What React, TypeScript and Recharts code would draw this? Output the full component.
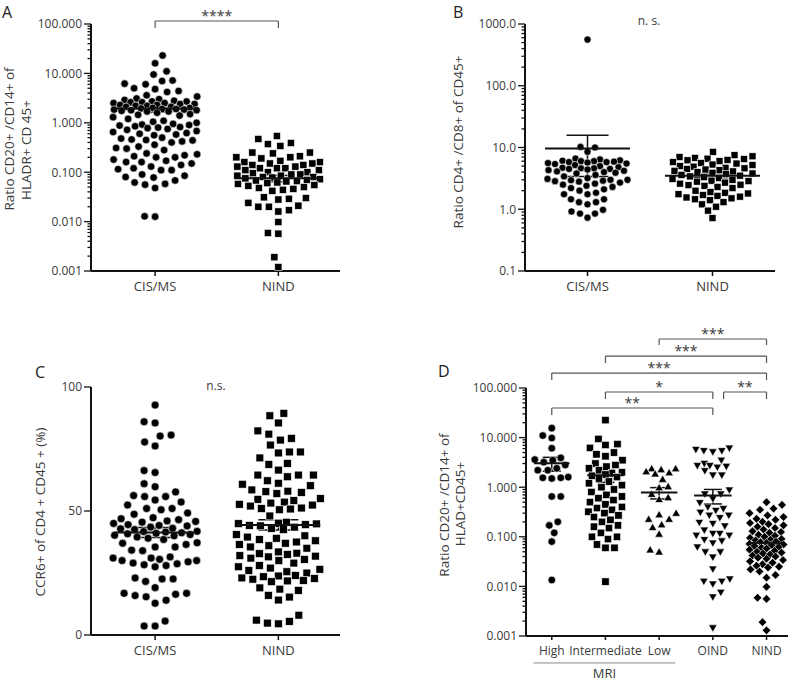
import React from 'react';
import { ErrorBar, ReferenceLine, Scatter, ScatterChart, XAxis, YAxis } from 'recharts';

const FONT = '"Open Sans", "Noto Sans", sans-serif';
const INK = '#111';
const TEXT = '#3a3a3a';

// A: ratio CD20+/CD14+ of HLADR+ CD45+
const groupsAB = ['CIS/MS', 'NIND'];
const ratioCis = [
  23, 16, 11, 9.5, 7.2, 7.0, 6.2, 6.0, 5.0, 4.8, 4.4, 4.2, 3.6, 3.4, 3.1, 3.0,
  2.9, 2.8, 2.7, 2.7, 2.6, 2.6, 2.5, 2.5, 2.4, 2.4,
  2.3, 2.3, 2.2, 2.2, 2.1, 2.1, 2.0, 2.0,
  1.95, 1.9, 1.9, 1.85, 1.85, 1.8, 1.8, 1.75, 1.7, 1.7,
  1.6, 1.5, 1.45, 1.4, 1.3, 1.2, 1.1, 1.05, 1.0,
  0.95, 0.92, 0.9, 0.88, 0.85, 0.82, 0.8, 0.78, 0.75,
  0.72, 0.68, 0.65, 0.62, 0.6, 0.58, 0.56,
  0.5, 0.48, 0.46, 0.45, 0.44, 0.42, 0.4,
  0.36, 0.33, 0.31, 0.3, 0.28,
  0.24, 0.23, 0.22, 0.21, 0.2, 0.2,
  0.18, 0.17, 0.16, 0.16, 0.15,
  0.14, 0.13, 0.12, 0.115, 0.11, 0.11,
  0.09, 0.085, 0.08, 0.078, 0.068, 0.062, 0.058, 0.056, 0.048,
  0.0128, 0.0126,
];
const ratioNind = [
  0.54, 0.47, 0.39, 0.37, 0.34,
  0.25, 0.25, 0.24, 0.21, 0.2, 0.2, 0.19,
  0.17, 0.16, 0.16, 0.15, 0.15, 0.14, 0.14, 0.13, 0.13, 0.12, 0.12, 0.12,
  0.11, 0.11, 0.1, 0.1,
  0.095, 0.09, 0.09, 0.085, 0.085, 0.08, 0.08, 0.078, 0.075, 0.072, 0.07, 0.068, 0.066, 0.065,
  0.062, 0.06, 0.058, 0.055, 0.053, 0.05, 0.048, 0.046, 0.044, 0.042,
  0.031, 0.03, 0.029, 0.028, 0.024, 0.021, 0.02, 0.02, 0.017, 0.016,
  0.0098, 0.0059, 0.0057, 0.0019, 0.0012,
];
const ratioMean = [1.95, 0.075];
const ratioSem = [0.3, 0.011];

// B: ratio CD4+/CD8+ of CD45+
const cd4Cis = [
  560, 10.2, 10.0, 8.5, 6.6, 6.4,
  6.2, 6.1, 6.0, 6.0, 5.9, 5.8, 5.8, 5.7, 5.6, 5.5, 5.4, 5.2, 5.0,
  4.8, 4.7, 4.6, 4.6, 4.5, 4.5, 4.4, 4.3, 4.2, 4.1, 4.0, 3.9, 3.8,
  3.6, 3.4, 3.2, 3.1, 3.0, 3.0, 2.95, 2.9, 2.85, 2.8, 2.7, 2.6, 2.5, 2.4, 2.3, 2.2, 2.1, 2.0,
  1.85, 1.75, 1.75, 1.45, 1.45, 1.3, 1.3, 1.2, 0.98, 0.92, 0.85, 0.85, 0.73,
];
const cd4Nind = [
  8.5, 7.5, 7.2,
  7.0, 6.8, 6.6, 6.5, 6.3, 6.2, 6.0, 5.8, 5.6, 5.5, 5.3, 5.2, 5.0, 4.9,
  4.7, 4.6, 4.5, 4.4, 4.3, 4.2, 4.1, 4.0, 3.9, 3.8, 3.7, 3.6, 3.5, 3.4,
  3.3, 3.2, 3.1, 3.0, 2.9, 2.85, 2.8, 2.7, 2.6, 2.5, 2.45, 2.4, 2.3, 2.2,
  2.0, 1.9, 1.85, 1.8, 1.75, 1.7, 1.65, 1.6, 1.55, 1.5, 1.45, 1.4, 1.3, 1.2, 1.1,
  0.95, 0.72,
];
const cd4Mean = [9.6, 3.5];
const cd4Sem = [6.2, 0.25];

// C: CCR6+ of CD4+ CD45+ (%)
const ccr6Cis = [
  92.7, 86, 85.5, 80.6, 80.2, 77.8, 76.2, 66.3, 65.5, 61, 59.8, 57.7,
  56.2, 55.8, 55.8, 54.4, 53.6, 52.4,
  51, 51, 50.5, 49.2, 48.7, 47.3, 46.9,
  46.5, 46, 45.8, 45.5, 45, 44.5, 44.2, 44, 43.5, 43, 42.8, 42.5,
  41.8, 41.7, 41.5, 41.2, 41, 40.8, 40.5, 40.2, 40, 39.5, 39, 38.5,
  37.2, 37, 36.5, 35.5, 35.5, 34.2, 34,
  31.5, 31, 31, 30.5, 30, 30, 29.5, 29, 28.7, 28.3, 28, 27.5,
  23, 22.6, 22.6, 21.6, 19.1,
  16.8, 16.8, 16.4, 15.9, 15.4, 14,
  12.8, 5.6, 3.6, 3.6,
];
const ccr6Nind = [
  89.4, 88.4, 85.5, 82.3, 81, 79.3, 78.6, 76.6, 73.8, 73.8, 73.4, 71.4, 69.2, 68.8,
  66.5, 64.5, 64.5, 64.5, 63.8, 62.2, 61.2, 60.8, 60.2,
  58.5, 58, 57.8, 57.5, 57,
  55, 54.7, 54.2, 53.6, 53.2, 52.7, 52.4, 52,
  51.2, 51, 50.8, 50.5, 48,
  45.5, 45, 44.9, 44.8, 44.5, 44.2, 44, 43.5, 43, 42.5,
  40.5, 40, 39.5, 39, 38.5, 38, 37.5, 37, 36.5, 36, 35.5, 35,
  33.5, 33, 32.8, 32.5, 32, 31.8, 31.5, 31, 30.5, 30,
  29, 28, 27.5, 27, 26.5, 26, 25.5, 25,
  24, 23.8, 23.5, 23, 22.8, 22.5, 22, 21.8, 21.5,
  19, 18.5, 18, 16, 15.3, 14.1,
  8, 6, 5.5, 4.8, 4.5,
];
const ccr6Mean = [41.3, 44.4];
const ccr6Sem = [2.0, 2.1];

// D: by MRI activity and control groups
const groupsD = ['High', 'Intermediate', 'Low', 'OIND', 'NIND'];
const mriHigh = [
  15.5, 11, 9.8, 6.1, 3.9, 3.6, 3.5, 3.2, 2.8, 2.4, 2.2, 2.2,
  1.6, 1.55, 1.55, 1.5, 0.65, 0.65, 0.2, 0.17, 0.12, 0.08, 0.0135,
];
const mriInter = [
  22.5, 9.4, 7.4, 7.1, 6.2, 5.0, 4.6, 4.2, 3.5, 3.0, 2.8, 2.6, 2.4, 2.2, 2.0, 1.9,
  1.8, 1.7, 1.6, 1.5, 1.3, 1.2, 1.1, 1.0, 0.9, 0.8, 0.7, 0.65, 0.6, 0.55, 0.5, 0.45,
  0.4, 0.38, 0.35, 0.32, 0.3, 0.27, 0.25, 0.22, 0.2, 0.17, 0.16, 0.15, 0.12, 0.1,
  0.1, 0.09, 0.07, 0.06, 0.06, 0.0125,
];
const mriLow = [
  2.3, 2.3, 2.2, 2.0, 1.9, 1.8, 1.4, 1.0, 0.95, 0.7, 0.6, 0.55,
  0.29, 0.27, 0.22, 0.22, 0.17, 0.15, 0.11, 0.053, 0.048,
];
const oindVals = [
  6.3, 5.9, 5.6, 5.6, 5.3, 3.6, 3.1, 2.8, 2.8, 2.7, 2.6, 2.2, 1.8, 1.8,
  0.9, 0.75, 0.75, 0.6, 0.5, 0.41, 0.38, 0.35, 0.32, 0.28, 0.28, 0.25, 0.2, 0.19,
  0.17, 0.14, 0.12, 0.12, 0.11, 0.11, 0.09, 0.085, 0.077, 0.064, 0.051, 0.051,
  0.04, 0.023, 0.0145, 0.013, 0.013, 0.0115, 0.0078, 0.0063, 0.0015,
];
const nindVals = [
  0.5, 0.44, 0.37, 0.35, 0.3, 0.27, 0.25, 0.23, 0.22, 0.2, 0.19, 0.18, 0.17, 0.16,
  0.15, 0.14, 0.13, 0.125, 0.12, 0.11, 0.105, 0.1, 0.095, 0.09, 0.088, 0.085, 0.08,
  0.078, 0.075, 0.072, 0.07, 0.068, 0.065, 0.062, 0.06, 0.058, 0.055, 0.052, 0.05,
  0.048, 0.046, 0.044, 0.042, 0.04, 0.038, 0.036, 0.034, 0.032, 0.03, 0.028, 0.026,
  0.025, 0.024, 0.022, 0.02, 0.017, 0.015, 0.0098, 0.0059, 0.0056, 0.0019, 0.0013,
];
const dMean = [3.05, 1.75, 0.78, 0.68, 0.075];
const dSem = [0.95, 0.5, 0.2, 0.22, 0.01];

const ticksRatio = [0.001, 0.01, 0.1, 1, 10, 100];
const labelsRatio = ['0.001', '0.010', '0.100', '1.000', '10.000', '100.000'];
const ticksCd4 = [0.1, 1, 10, 100, 1000];
const labelsCd4 = ['0.1', '1.0', '10.0', '100.0', '1000.0'];
const ticksCcr6 = [0, 50, 100];
const labelsCcr6 = ['0', '50', '100'];

// log axes get GraphPad-style minor ticks between decades
const withMinor = (majors: number[]) => {
  const out = [...majors];
  majors.slice(0, -1).forEach((m) => {
    for (let k = 2; k <= 9; k++) out.push(+(m * k).toPrecision(6));
  });
  return out.sort((a, b) => a - b);
};

// simple beeswarm: lowest values sit in the middle, the rest push outward
function swarm(vals: number[], toPx: (v: number) => number, sep: number, maxHalf: number) {
  const order = vals.map((_, i) => i).sort((a, b) => vals[a] - vals[b]);
  const placed: Array<[number, number]> = [];
  const offs = new Array(vals.length).fill(0);
  order.forEach((i, n) => {
    const py = toPx(vals[i]);
    const near = placed.filter(([, y]) => Math.abs(y - py) < sep);
    const flip = n % 2 === 0 ? 1 : -1;
    let best = 0;
    let bestD = -1;
    for (let k = 0; k <= maxHalf * 4; k++) {
      const cx = k === 0 ? 0 : flip * (k % 2 ? 1 : -1) * Math.ceil(k / 2) * 0.5;
      let d = Infinity;
      for (const [x, y] of near) d = Math.min(d, Math.hypot(x - cx, y - py));
      if (d >= sep) {
        best = cx;
        break;
      }
      if (d > bestD + 0.5) {
        best = cx;
        bestD = d;
      }
    }
    placed.push([best, py]);
    offs[i] = best;
  });
  return offs;
}

const marker = (kind: string, s: number) => (p: any) => {
  const { cx, cy } = p;
  if (cx == null || cy == null) return <g />;
  const common = { fill: '#000', stroke: '#fff', strokeWidth: 0.6 };
  if (kind === 'circle') return <circle cx={cx} cy={cy} r={s / 2} {...common} />;
  if (kind === 'square') return <rect x={cx - s / 2} y={cy - s / 2} width={s} height={s} {...common} />;
  if (kind === 'diamond')
    return <path d={`M${cx},${cy - s / 2}L${cx + s / 2},${cy}L${cx},${cy + s / 2}L${cx - s / 2},${cy}Z`} {...common} />;
  const h = s * 0.87;
  if (kind === 'up')
    return <path d={`M${cx},${cy - (2 * h) / 3}L${cx + s / 2},${cy + h / 3}L${cx - s / 2},${cy + h / 3}Z`} {...common} />;
  return <path d={`M${cx},${cy + (2 * h) / 3}L${cx + s / 2},${cy - h / 3}L${cx - s / 2},${cy - h / 3}Z`} {...common} />;
};

// mean bar drawn as the point shape, SEM comes from ErrorBar
const meanBar = (p: any) => {
  const { cx, cy, payload } = p;
  if (cx == null || cy == null) return <g />;
  return <line x1={cx - payload.half} x2={cx + payload.half} y1={cy} y2={cy} stroke={INK} strokeWidth={2} />;
};

const yTick = (majors: number[], labels: string[]) => (p: any) => {
  const { x, y, payload } = p;
  const idx = majors.findIndex((m) => Math.abs(m - payload.value) < m * 1e-6 + 1e-9);
  const major = idx >= 0;
  return (
    <g>
      <line x1={x - (major ? 7 : 3.5)} x2={x} y1={y} y2={y} stroke={INK} strokeWidth={1.3} />
      {major && (
        <text x={x - 9} y={y} dy="0.36em" textAnchor="end" fontSize={12} fill={TEXT}>
          {labels[idx]}
        </text>
      )}
    </g>
  );
};

const lineStyle = { stroke: '#555', strokeWidth: 1.2, ifOverflow: 'visible' as const };

function bracket(key: string, from: number, to: number, top: number, foot: number, text: string) {
  return [
    <ReferenceLine
      key={key + 'h'}
      segment={[{ x: from, y: top }, { x: to, y: top }]}
      {...lineStyle}
      label={{ value: text, position: 'top', offset: 0, fontSize: 14, fill: TEXT }}
    />,
    <ReferenceLine key={key + 'l'} segment={[{ x: from, y: top }, { x: from, y: foot }]} {...lineStyle} />,
    <ReferenceLine key={key + 'r'} segment={[{ x: to, y: top }, { x: to, y: foot }]} {...lineStyle} />,
  ];
}

type Series = { vals: number[]; kind: string; size: number };
type PanelProps = {
  left: number;
  top: number;
  width: number;
  height: number;
  margin: { top: number; right: number; bottom: number; left: number };
  yWidth: number;
  xHeight: number;
  xDomain: [number, number];
  groups: string[];
  xFont: number;
  xTickSize: number;
  xTickMargin: number;
  yDomain: [number, number];
  log: boolean;
  majors: number[];
  labels: string[];
  series: Series[];
  means: number[];
  sems: number[];
  meanHalf: number[];
  capPx: number;
  sep: number;
  maxHalf: number;
  extra?: React.ReactNode;
};

function DotPanel(pp: PanelProps) {
  const plotW = pp.width - pp.margin.left - pp.margin.right - pp.yWidth;
  const plotH = pp.height - pp.margin.top - pp.margin.bottom - pp.xHeight;
  const pxPerUnit = plotW / (pp.xDomain[1] - pp.xDomain[0]);
  const toPx = pp.log
    ? (v: number) => (Math.log10(v) * plotH) / (Math.log10(pp.yDomain[1]) - Math.log10(pp.yDomain[0]))
    : (v: number) => (v * plotH) / (pp.yDomain[1] - pp.yDomain[0]);
  const ticks = pp.log ? withMinor(pp.majors) : pp.majors;
  const axisStyle = { stroke: INK, strokeWidth: 2 };
  const meanPts = pp.means.map((m, i) => ({ x: i, y: m, err: pp.sems[i], half: pp.meanHalf[i] * pxPerUnit }));

  return (
    <div style={{ position: 'absolute', left: pp.left, top: pp.top }}>
      <ScatterChart width={pp.width} height={pp.height} margin={pp.margin}>
        <XAxis
          type="number"
          dataKey="x"
          domain={pp.xDomain}
          ticks={pp.groups.map((_, i) => i)}
          interval={0}
          tickFormatter={(v: number) => pp.groups[v] ?? ''}
          height={pp.xHeight}
          tickSize={pp.xTickSize}
          tickMargin={pp.xTickMargin}
          axisLine={axisStyle}
          tickLine={{ stroke: INK, strokeWidth: 1.5 }}
          tick={{ fontSize: pp.xFont, fill: TEXT }}
        />
        <YAxis
          type="number"
          dataKey="y"
          scale={pp.log ? 'log' : 'linear'}
          domain={pp.yDomain}
          ticks={ticks}
          interval={0}
          width={pp.yWidth}
          tickSize={0}
          tickMargin={0}
          tickLine={false}
          axisLine={axisStyle}
          tick={yTick(pp.majors, pp.labels)}
        />
        {pp.extra}
        {pp.series.map((s, gi) => {
          const offs = swarm(s.vals, toPx, pp.sep, pp.maxHalf);
          const pts = s.vals.map((v, j) => ({ x: gi + offs[j] / pxPerUnit, y: v }));
          return (
            <Scatter
              key={'s' + gi}
              data={pts}
              dataKey="y"
              shape={marker(s.kind, s.size)}
              isAnimationActive={false}
            />
          );
        })}
        <Scatter data={meanPts} dataKey="y" shape={meanBar} isAnimationActive={false}>
          <ErrorBar dataKey="err" direction="y" width={pp.capPx} stroke={INK} strokeWidth={1.5} isAnimationActive={false} />
        </Scatter>
      </ScatterChart>
    </div>
  );
}

function RotLabel({ x, y, text, size = 13.5 }: { x: number; y: number; text: string; size?: number }) {
  return (
    <text x={x} y={y} transform={`rotate(-90 ${x} ${y})`} textAnchor="middle" fontSize={size} fill={TEXT}>
      {text}
    </text>
  );
}

export default function App() {
  return (
    <div
      style={{
        position: 'absolute',
        left: 0,
        top: 0,
        width: 796,
        height: 682,
        background: '#fff',
        fontFamily: FONT,
        overflow: 'hidden',
      }}
    >
      <DotPanel
        left={0}
        top={0}
        width={400}
        height={330}
        margin={{ top: 24, right: 60, bottom: 19, left: 0 }}
        yWidth={91}
        xHeight={40}
        xDomain={[-0.52, 1.5]}
        groups={groupsAB}
        xFont={13}
        xTickSize={5}
        xTickMargin={6}
        yDomain={[0.001, 100]}
        log
        majors={ticksRatio}
        labels={labelsRatio}
        series={[
          { vals: ratioCis, kind: 'circle', size: 7.6 },
          { vals: ratioNind, kind: 'square', size: 7.2 },
        ]}
        means={ratioMean}
        sems={ratioSem}
        meanHalf={[0.34, 0.35]}
        capPx={10}
        sep={10.5}
        maxHalf={42}
        extra={bracket('a', 0, 1, 115, 83, '****')}
      />
      <DotPanel
        left={400}
        top={0}
        width={396}
        height={330}
        margin={{ top: 24, right: 21, bottom: 19, left: 0 }}
        yWidth={125}
        xHeight={40}
        xDomain={[-0.5, 1.5]}
        groups={groupsAB}
        xFont={13}
        xTickSize={5}
        xTickMargin={6}
        yDomain={[0.1, 1000]}
        log
        majors={ticksCd4}
        labels={labelsCd4}
        series={[
          { vals: cd4Cis, kind: 'circle', size: 7.2 },
          { vals: cd4Nind, kind: 'square', size: 7 },
        ]}
        means={cd4Mean}
        sems={cd4Sem}
        meanHalf={[0.34, 0.38]}
        capPx={21}
        sep={8.5}
        maxHalf={40}
      />
      <DotPanel
        left={0}
        top={340}
        width={400}
        height={342}
        margin={{ top: 47, right: 60, bottom: 7, left: 0 }}
        yWidth={91}
        xHeight={40}
        xDomain={[-0.52, 1.5]}
        groups={groupsAB}
        xFont={13}
        xTickSize={5}
        xTickMargin={6}
        yDomain={[0, 100]}
        log={false}
        majors={ticksCcr6}
        labels={labelsCcr6}
        series={[
          { vals: ccr6Cis, kind: 'circle', size: 8 },
          { vals: ccr6Nind, kind: 'square', size: 7.8 },
        ]}
        means={ccr6Mean}
        sems={ccr6Sem}
        meanHalf={[0.33, 0.34]}
        capPx={20}
        sep={11}
        maxHalf={42}
      />
      <DotPanel
        left={400}
        top={320}
        width={396}
        height={362}
        margin={{ top: 68, right: 8, bottom: 16, left: 0 }}
        yWidth={126}
        xHeight={30}
        xDomain={[-0.48, 4.4]}
        groups={groupsD}
        xFont={12}
        xTickSize={4}
        xTickMargin={6}
        yDomain={[0.001, 100]}
        log
        majors={ticksRatio}
        labels={labelsRatio}
        series={[
          { vals: mriHigh, kind: 'circle', size: 7.6 },
          { vals: mriInter, kind: 'square', size: 7.4 },
          { vals: mriLow, kind: 'up', size: 8.4 },
          { vals: oindVals, kind: 'down', size: 8.4 },
          { vals: nindVals, kind: 'diamond', size: 8.6 },
        ]}
        means={dMean}
        sems={dSem}
        meanHalf={[0.33, 0.34, 0.34, 0.35, 0.34]}
        capPx={9}
        sep={9}
        maxHalf={17}
        extra={[
          ...bracket('d1', 2, 4, 973, 736, '***'),
          ...bracket('d2', 1, 4, 441, 319, '***'),
          ...bracket('d3', 0, 4, 200, 145, '***'),
          ...bracket('d4', 1, 3, 83, 60, '*'),
          ...bracket('d5', 3.2, 4, 83, 60, '**'),
          ...bracket('d6', 0, 3, 39.5, 28.6, '**'),
          <ReferenceLine
            key="mri"
            segment={[{ x: -0.34, y: 0.000286 }, { x: 2.3, y: 0.000286 }]}
            stroke="#888"
            strokeWidth={1}
            ifOverflow="visible"
            label={{ value: 'MRI', position: 'bottom', offset: 6, fontSize: 13, fill: TEXT }}
          />,
        ]}
      />
      <svg width={796} height={682} style={{ position: 'absolute', left: 0, top: 0, pointerEvents: 'none' }}>
        <text x={2} y={17.5} fontSize={16} fill="#222">A</text>
        <text x={453} y={17.5} fontSize={16} fill="#222">B</text>
        <text x={35} y={378} fontSize={16} fill="#222">C</text>
        <text x={438} y={377} fontSize={16} fill="#222">D</text>
        <text x={649} y={25} fontSize={12} fill={TEXT} textAnchor="middle">n. s.</text>
        <text x={216} y={390} fontSize={12} fill={TEXT} textAnchor="middle">n.s.</text>
        <RotLabel x={14} y={139} text="Ratio CD20+ /CD14+ of" />
        <RotLabel x={30.5} y={150} text="HLADR+ CD 45+" />
        <RotLabel x={463} y={142} text="Ratio CD4+ /CD8+ of CD45+" />
        <RotLabel x={45} y={512} text="CCR6+ of CD4 + CD45 + (%)" />
        <RotLabel x={449} y={505} text="Ratio CD20+ /CD14+ of" />
        <RotLabel x={465} y={504} text="HLAD+CD45+" />
      </svg>
    </div>
  );
}
